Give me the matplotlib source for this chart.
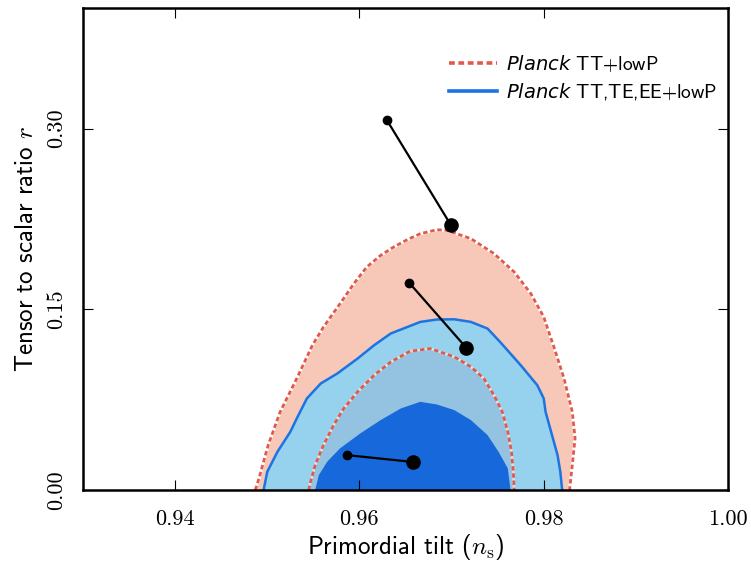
import matplotlib
matplotlib.use("Agg")
import matplotlib.pyplot as plt
from matplotlib.lines import Line2D

plt.rcParams["mathtext.fontset"] = "cm"
plt.rcParams["mathtext.it"] = "DejaVu Sans:italic"
plt.rcParams["mathtext.rm"] = "cmss10"

# contour boundaries in the (n_s, r) plane
tt95_ns = [0.9487, 0.9491, 0.9501, 0.9514, 0.9532, 0.9549, 0.9561, 0.9579, 0.9594,
           0.9608, 0.9623, 0.9637, 0.9652, 0.9666, 0.9684, 0.9695, 0.9721, 0.9746,
           0.9768, 0.9786, 0.9800, 0.9811, 0.9822, 0.9831, 0.9834, 0.9831, 0.9828]
tt95_r = [0.0, 0.0097, 0.0373, 0.0649, 0.0926, 0.1202, 0.1353, 0.1547, 0.1713,
          0.1851, 0.1947, 0.2016, 0.2078, 0.2127, 0.2160, 0.2155, 0.2086, 0.1962,
          0.1809, 0.1630, 0.1436, 0.1188, 0.0926, 0.0649, 0.0428, 0.0207, 0.0]

tt68_ns = [0.9545, 0.9547, 0.9552, 0.9561, 0.9572, 0.9583, 0.9598, 0.9616, 0.9634,
           0.9655, 0.9677, 0.9703, 0.9721, 0.9735, 0.9746, 0.9755, 0.9761, 0.9765,
           0.9767, 0.9768]
tt68_r = [0.0, 0.0069, 0.0207, 0.0373, 0.0539, 0.0677, 0.0815, 0.0953, 0.1063,
          0.1152, 0.1174, 0.1105, 0.1022, 0.0926, 0.0787, 0.0649, 0.0483, 0.0317,
          0.0152, 0.0]

all95_ns = [0.9496, 0.9500, 0.9511, 0.9525, 0.9532, 0.9543, 0.9558, 0.9576, 0.9598,
            0.9616, 0.9634, 0.9666, 0.9684, 0.9703, 0.9721, 0.9739, 0.9753, 0.9775,
            0.9793, 0.9800, 0.9802, 0.9808, 0.9815, 0.9818, 0.9820]
all95_r = [0.0, 0.0152, 0.0317, 0.0483, 0.0594, 0.0760, 0.0884, 0.0967, 0.1091,
           0.1202, 0.1299, 0.1395, 0.1415, 0.1417, 0.1395, 0.1340, 0.1226, 0.1036,
           0.0870, 0.0760, 0.0649, 0.0483, 0.0290, 0.0152, 0.0]

all68_ns = [0.9552, 0.9556, 0.9565, 0.9579, 0.9601, 0.9623, 0.9645, 0.9666, 0.9684,
            0.9703, 0.9721, 0.9739, 0.9751, 0.9761, 0.9764]
all68_r = [0.0, 0.0124, 0.0235, 0.0346, 0.0470, 0.0580, 0.0677, 0.0732, 0.0710,
           0.0663, 0.0580, 0.0456, 0.0317, 0.0180, 0.0]

# model predictions: (small dot, large dot) pairs
model_ns_small = [0.9630, 0.9654, 0.9586]
model_r_small = [0.3067, 0.1720, 0.0290]
model_ns_large = [0.9699, 0.9716, 0.9658]
model_r_large = [0.2202, 0.1180, 0.0233]

xticks = [0.94, 0.96, 0.98, 1.00]
yticks = [0.00, 0.15, 0.30]

red = "#e05a4b"
blue = "#1c74e2"
dotted = (0, (1.6, 1.0))

fig = plt.figure(figsize=(7.51, 5.65), dpi=100)
ax = fig.add_axes([0.1105, 0.1327, 0.8589, 0.8531])

# filled regions
ax.fill(tt95_ns, tt95_r, color="#f7c7b7", lw=0, zorder=1)
ax.fill(all95_ns, all95_r, color="#96d1ed", lw=0, zorder=1.1)
ax.fill(tt68_ns, tt68_r, color="#93c3e0", lw=0, zorder=1.2)
ax.fill(all68_ns, all68_r, color="#1668db", lw=0, zorder=1.3)

# outlines
ax.plot(tt95_ns, tt95_r, color="white", lw=2.2, zorder=2)
ax.plot(tt95_ns, tt95_r, color=red, lw=2.0, ls=dotted, zorder=2.1)
ax.plot(all95_ns, all95_r, color=blue, lw=1.8, zorder=2.1)
ax.plot(tt68_ns, tt68_r, color="#cfe3ef", lw=2.0, zorder=2)
ax.plot(tt68_ns, tt68_r, color=red, lw=2.0, ls=dotted, zorder=2.1)

for xs, ys, xl, yl in zip(model_ns_small, model_r_small, model_ns_large, model_r_large):
    ax.plot([xs, xl], [ys, yl], color="black", lw=1.6, zorder=4)
    ax.plot(xs, ys, "o", color="black", ms=6, zorder=5)
    ax.plot(xl, yl, "o", color="black", ms=9.5, zorder=5)

ax.set_xlim(0.93, 1.00)
ax.set_ylim(0.0, 0.40)
ax.set_xticks(xticks)
ax.set_yticks(yticks)
ax.set_xticklabels([f"{v:.2f}" for v in xticks])
ax.set_yticklabels([f"{v:.2f}" for v in yticks], rotation=90, va="center")
ax.tick_params(which="both", direction="in", length=7, width=0.8,
               top=True, right=True, labelsize=16, labelfontfamily="cmr10")
ax.tick_params(axis="x", pad=14)
ax.tick_params(axis="y", pad=12)
for s in ax.spines.values():
    s.set_linewidth(1.8)

ax.set_xlabel(r"Primordial tilt ($n_{\rm s}$)", fontsize=18, family="cmss10", labelpad=2)
ax.set_ylabel(r"Tensor to scalar ratio $r$", fontsize=18, family="cmss10", labelpad=6)

handles = [Line2D([], [], color=red, lw=2.6, ls=dotted),
           Line2D([], [], color=blue, lw=2.6)]
labels = [r"$\mathit{Planck}$ TT+lowP", r"$\mathit{Planck}$ TT,TE,EE+lowP"]
leg = ax.legend(handles, labels, loc="center left", bbox_to_anchor=(0.567, 0.856),
                frameon=False, borderpad=0, borderaxespad=0, handlelength=2.5,
                handletextpad=0.45, labelspacing=0.35,
                prop={"family": "cmss10", "size": 14})
for t in leg.get_texts():
    t.set_math_fontfamily("custom")

fig.savefig("out.png", dpi=100)
